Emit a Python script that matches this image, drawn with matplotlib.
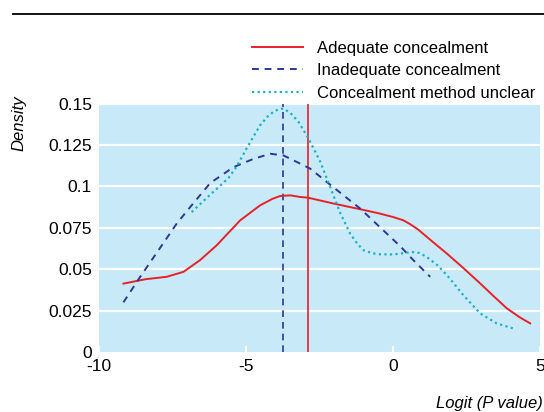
import matplotlib
matplotlib.use("Agg")
import matplotlib.pyplot as plt

# values
adequate_x = [-9.17, -8.4, -7.7, -7.13, -6.57, -6.0, -5.2, -4.52, -4.1, -3.84, -3.5, -3.16, -2.9,
              -2.04, -1.12, -0.5, 0.0, 0.35, 0.58, 0.86, 1.3, 1.83, 2.4, 2.96, 3.4, 3.87, 4.3, 4.66]
adequate_y = [0.0413, 0.0440, 0.0454, 0.0484, 0.0554, 0.0644, 0.0795, 0.0886, 0.0925, 0.0942, 0.0946, 0.0936, 0.0932,
              0.0897, 0.0862, 0.0838, 0.0815, 0.0795, 0.0772, 0.0738, 0.0672, 0.0594, 0.0505, 0.0414, 0.0340, 0.0263, 0.0210, 0.0173]

inadequate_x = [-9.17, -8.6, -7.93, -7.36, -6.9, -6.22, -5.43, -4.75, -4.18, -3.73, -3.27, -2.82,
                -2.04, -1.12, -0.21, 0.24, 0.69, 1.26]
inadequate_y = [0.030, 0.0454, 0.0627, 0.0775, 0.0875, 0.102, 0.1116, 0.1166, 0.1197, 0.1187, 0.1147, 0.1107,
                0.0996, 0.0866, 0.0714, 0.0639, 0.0554, 0.0454]

unclear_x = [-6.85, -6.4, -6.0, -5.6, -5.32, -4.98, -4.52, -4.25, -4.07, -3.9, -3.73, -3.5, -3.22, -2.88, -2.48,
             -2.14, -1.8, -1.46, -1.2, -1.0, -0.7, -0.44, 0.0, 0.24, 0.63, 0.9, 1.14, 1.5, 1.83, 2.39, 2.96, 3.52, 4.09]
unclear_y = [0.0845, 0.092, 0.0985, 0.105, 0.112, 0.123, 0.137, 0.1425, 0.145, 0.1465, 0.147, 0.1445, 0.139, 0.129, 0.115,
             0.0996, 0.084, 0.0714, 0.065, 0.0614, 0.0596, 0.059, 0.0589, 0.0594, 0.0604, 0.0598, 0.0574, 0.0525, 0.0464,
             0.0343, 0.0233, 0.0173, 0.0142]

adequate_ref = -2.9
inadequate_ref = -3.74

yticks = [0, 0.025, 0.05, 0.075, 0.1, 0.125, 0.15]
ytick_labels = ["0", "0.025", "0.05", "0.075", "0.1", "0.125", "0.15"]
xticks = [-10, -5, 0, 5]
xtick_labels = ["-10", "-5", "0", "5"]

plt.rcParams['font.family'] = ['Liberation Sans', 'DejaVu Sans']

red = "#e8202a"
navy = "#2b3990"
cyan = "#1ab0c8"

fig = plt.figure(figsize=(5.44, 4.12), dpi=100)
ax = fig.add_axes([0.182, 0.1456, 0.811, 0.603])
ax.set_facecolor("#c8eaf8")

for y in yticks[1:]:
    ax.axhline(y, color="white", lw=1.6, zorder=1)

ax.plot(adequate_x, adequate_y, color=red, lw=1.4, label="Adequate concealment", zorder=3)
ax.plot(inadequate_x, inadequate_y, color=navy, lw=1.4, ls=(0, (3.5, 3)), label="Inadequate concealment", zorder=3)
ax.plot(unclear_x, unclear_y, color=cyan, lw=1.6, ls=(0, (1, 1.5)), label="Concealment method unclear", zorder=3)

ax.axvline(adequate_ref, color=red, lw=1.2, zorder=2)
ax.axvline(inadequate_ref, color=navy, lw=1.2, ls=(0, (4, 3)), zorder=2)

ax.set_xlim(-10, 5)
ax.set_ylim(0, 0.15)
ax.set_xticks(xticks)
ax.set_xticklabels(xtick_labels, fontsize=12.5)
ax.set_yticks(yticks)
ax.set_yticklabels(ytick_labels, fontsize=12.5)
ax.tick_params(axis="x", direction="in", color="white", length=4, width=1.5, pad=5)
ax.tick_params(axis="y", length=0, pad=5)
for s in ax.spines.values():
    s.set_visible(False)

leg = ax.legend(loc="lower right", bbox_to_anchor=(1.005, 0.985), frameon=False, fontsize=12,
                handlelength=3.1, handletextpad=0.85, labelspacing=0.45, borderaxespad=0)

fig.text(0.035, 0.70, "Density", rotation=90, style="italic", fontsize=12, ha="center", va="center")
fig.text(0.998, 0.003, "Logit (P value)", style="italic", fontsize=12, ha="right", va="bottom")

fig.add_artist(plt.Line2D([13 / 544, 1], [1 - 14 / 412, 1 - 14 / 412], color="black", lw=1.3))

fig.savefig("out.png", dpi=100)
